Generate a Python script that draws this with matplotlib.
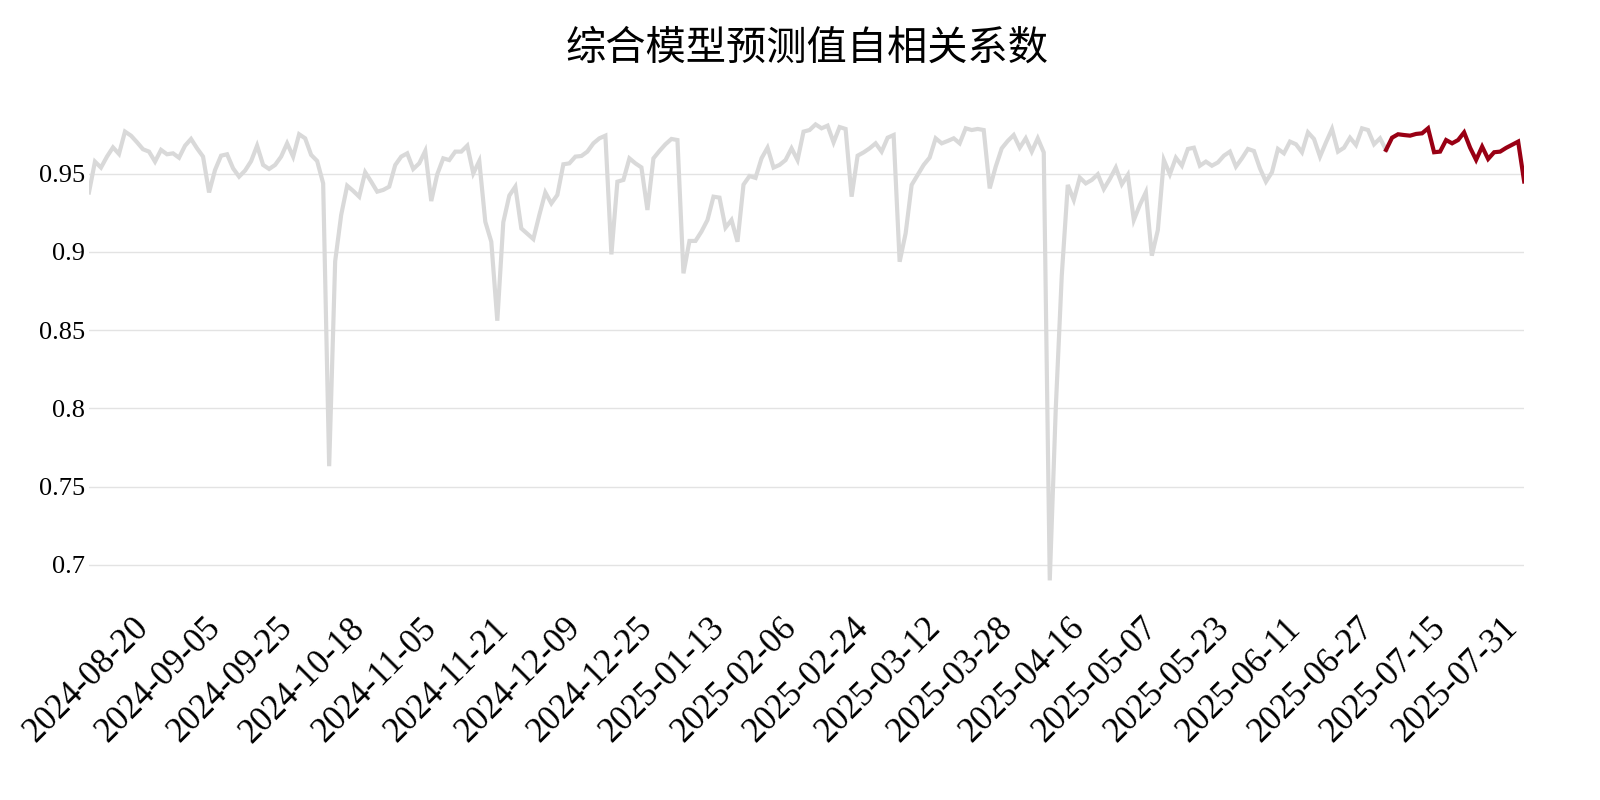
import numpy as np
import pandas as pd
import matplotlib
matplotlib.use("Agg")
import matplotlib.pyplot as plt

plt.rcParams['font.family'] = ['Noto Sans CJK SC', 'DejaVu Sans']

# 交易日（2024-08-05 至 2025-07-31）
holidays = ['2024-09-16', '2024-09-17', '2024-10-01', '2024-10-02', '2024-10-03',
            '2024-10-04', '2024-10-07', '2025-01-01', '2025-01-28', '2025-01-29',
            '2025-01-30', '2025-01-31', '2025-02-03', '2025-02-04', '2025-04-04',
            '2025-05-01', '2025-05-02', '2025-05-05', '2025-06-02']
dates = pd.bdate_range('2024-08-05', '2025-07-31', freq='C', holidays=holidays)

# 自相关系数
acf = [
    0.938, 0.9577, 0.9539, 0.9609, 0.9668, 0.9626, 0.9769, 0.9743, 0.9701, 0.9656,
    0.9641, 0.9577, 0.9652, 0.9624, 0.9630, 0.9602, 0.9679, 0.9722, 0.9662, 0.9609,
    0.938, 0.9524, 0.9615, 0.9624, 0.9534, 0.9481, 0.952, 0.958, 0.9679, 0.9556,
    0.953, 0.9556, 0.9609, 0.9694, 0.9609, 0.9752, 0.9726, 0.962, 0.9581, 0.9438,
    0.763, 0.894, 0.9236, 0.9423, 0.939, 0.9353, 0.9509, 0.9449, 0.9385, 0.9396,
    0.9417, 0.9555, 0.9609, 0.963, 0.953, 0.9566, 0.9645, 0.9325, 0.9496, 0.9598,
    0.9587, 0.9641, 0.9641, 0.9679, 0.9502, 0.9581, 0.9193, 0.9065, 0.856, 0.919,
    0.936, 0.9417, 0.915, 0.9116, 0.9082, 0.9236, 0.938, 0.931, 0.9364, 0.956,
    0.9566, 0.9609, 0.9613, 0.9641, 0.9694, 0.9726, 0.9743, 0.8984, 0.9449, 0.946,
    0.9598, 0.9566, 0.954, 0.9268, 0.9598, 0.9645, 0.9688, 0.9722, 0.9715, 0.8863,
    0.907, 0.907, 0.913, 0.9204, 0.9353, 0.9347, 0.9155, 0.9204, 0.9065, 0.943,
    0.9485, 0.9473, 0.9598, 0.9666, 0.9539, 0.9556, 0.9587, 0.9662, 0.9587, 0.9769,
    0.9779, 0.9815, 0.979, 0.9807, 0.970, 0.9798, 0.9786, 0.9353, 0.9615, 0.9636,
    0.9662, 0.9694, 0.9641, 0.973, 0.9747, 0.8937, 0.9119, 0.9428, 0.9492, 0.9556,
    0.9603, 0.9726, 0.9694, 0.9709, 0.9726, 0.9694, 0.979, 0.9779, 0.9786, 0.9779,
    0.9406, 0.9545, 0.9662, 0.9709, 0.9747, 0.9666, 0.9726, 0.9641, 0.9726, 0.9636,
    0.69, 0.80, 0.885, 0.9428, 0.9332, 0.9475, 0.9438, 0.946, 0.9496, 0.9402,
    0.9466, 0.9539, 0.9432, 0.9492, 0.9204, 0.930, 0.9381, 0.8976, 0.914, 0.9587,
    0.9496, 0.9602, 0.9551, 0.9658, 0.9666, 0.9551, 0.9577, 0.9551, 0.9572, 0.9615,
    0.9641, 0.9545, 0.9598, 0.9658, 0.9645, 0.9534, 0.9449, 0.9509, 0.9658, 0.963,
    0.9705, 0.9688, 0.9637, 0.9764, 0.9722, 0.9609, 0.970, 0.9786, 0.9641, 0.9666,
    0.973, 0.9683, 0.979, 0.9779, 0.9688, 0.9726, 0.9652, 0.973, 0.9752, 0.9747,
    0.9743, 0.9754, 0.9758, 0.979, 0.9637, 0.9641, 0.9715, 0.9694, 0.9715, 0.9764,
    0.9666, 0.9588, 0.9673, 0.9594, 0.9637, 0.9641, 0.9665, 0.9685, 0.9705, 0.945,
]
recent_start = '2025-06-30'  # 近一个月标红
yticks = [0.7, 0.75, 0.8, 0.85, 0.9, 0.95]

labels = [d.strftime('%Y-%m-%d') for d in dates]
x = np.arange(len(acf))
k = labels.index(recent_start)

fig = plt.figure(figsize=(16, 8), dpi=100)
ax = fig.add_axes([0.0556, 0.246, 0.897, 0.627])

ax.plot(x[:k + 1], acf[:k + 1], color='#d9d9d9', lw=3.0, solid_joinstyle='miter')
ax.plot(x[k:], acf[k:], color='#990014', lw=3.0, solid_joinstyle='miter')

ax.set_xlim(x[0], x[-1])
ax.margins(y=0.05)
ax.set_yticks(yticks)
ax.set_yticklabels([f'{v:g}' for v in yticks], family='Liberation Serif', fontsize=19)
tick_idx = x[::-12][::-1]
ax.set_xticks(tick_idx)
ax.set_xticklabels([labels[i] for i in tick_idx], rotation=45, ha='right',
                   family='Liberation Serif', fontsize=25)
ax.tick_params(length=0, pad=3)
ax.tick_params(axis='x', pad=6)
ax.grid(axis='y', color='#e3e3e3', lw=1)
ax.set_axisbelow(True)
for s in ax.spines.values():
    s.set_visible(False)

ax.set_title('综合模型预测值自相关系数', fontsize=29, pad=30)

fig.savefig('out.png', dpi=100)
